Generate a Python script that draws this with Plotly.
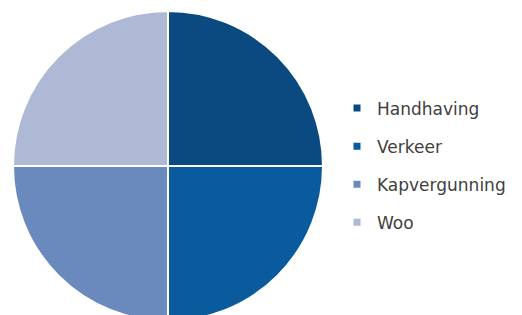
import plotly.graph_objects as go

categories = ["Handhaving", "Verkeer", "Kapvergunning", "Woo"]
values = [25, 25, 25, 25]
colors = ["#0b4a80", "#0a5a9e", "#6a89bc", "#aeb9d6"]

W, H = 522, 332
cx, cy, r = 168, 166, 155

fig = go.Figure()
fig.add_trace(go.Pie(
    labels=categories, values=values, sort=False, direction="clockwise",
    rotation=0, marker=dict(colors=colors, line=dict(color="white", width=2)),
    textinfo="none", hoverinfo="label+percent", showlegend=False,
    domain=dict(x=[(cx - r) / W, (cx + r) / W], y=[(H - cy - r) / H, (H - cy + r) / H]),
))
for i, (c, col) in enumerate(zip(categories, colors)):
    fig.add_trace(go.Scatter(
        x=[None], y=[None], mode="markers", name=c, legendgroup=c,
        marker=dict(symbol="square", size=7, color=col),
    ))

fig.update_layout(
    width=W, height=H, margin=dict(l=0, r=0, t=0, b=0),
    paper_bgcolor="white", plot_bgcolor="white",
    xaxis=dict(visible=False), yaxis=dict(visible=False),
    legend=dict(x=337 / W, xanchor="left", y=1 - 90.5 / H, yanchor="top",
                traceorder="grouped", tracegroupgap=13,
                font=dict(family="DejaVu Sans", size=17, color="#404040"),
                bgcolor="rgba(0,0,0,0)"),
)
fig.write_html("out.html", config={"displayModeBar": False},
               post_script="document.body.style.margin='0';document.body.style.overflow='hidden';")
